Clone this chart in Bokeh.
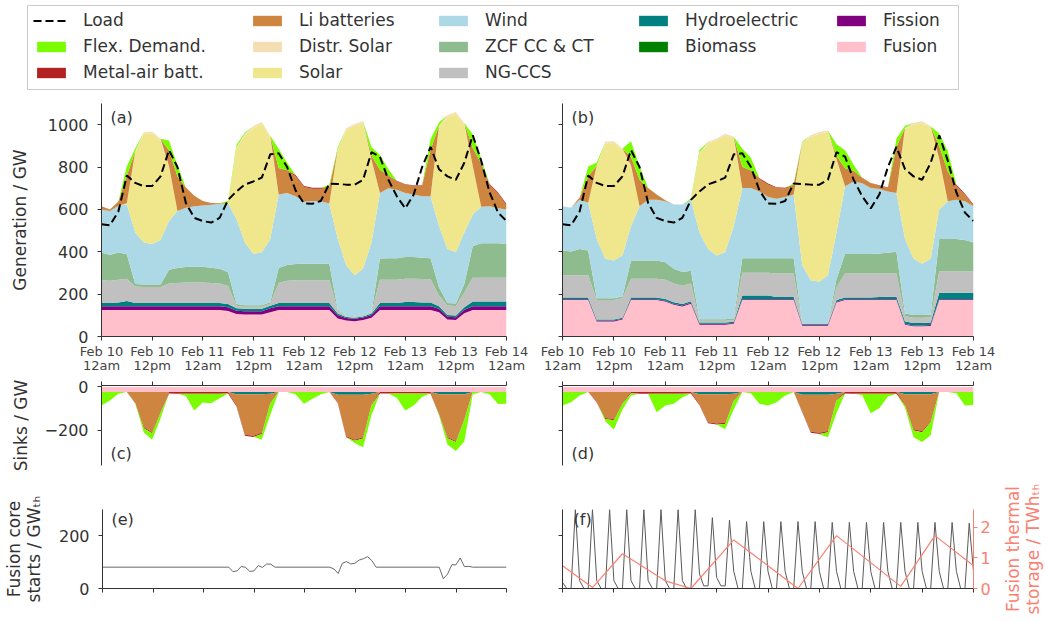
from bokeh.plotting import figure
from bokeh.models import (ColumnDataSource, Range1d, LinearAxis, FixedTicker,
                          Legend, LegendItem, Label)
from bokeh.layouts import column, row
from bokeh.embed import file_html
from bokeh.resources import INLINE

FONT = "DejaVu Sans"
INK = "#333333"

# ---------------- time axis ----------------
hours = list(range(0, 97, 2))          # hours since Feb 10 12am (2-hourly samples)
hours_1h = list(range(0, 97))          # hourly samples
tick_hours = [0, 12, 24, 36, 48, 60, 72, 84, 96]
tick_labels = ["Feb 10\n12am", "Feb 10\n12pm", "Feb 11\n12am", "Feb 11\n12pm",
               "Feb 12\n12am", "Feb 12\n12pm", "Feb 13\n12am", "Feb 13\n12pm",
               "Feb 14\n12am"]

# ---------------- load (GW) ----------------
load = [530, 525, 590, 760, 725, 710, 710, 756, 880, 800, 630, 560, 545, 538, 560, 645,
        685, 718, 732, 750, 860, 865, 800, 690, 628, 627, 640, 722, 720, 717, 717, 740,
        870, 849, 740, 662, 605, 670, 800, 895, 790, 756, 740, 820, 950, 830, 680, 585, 545]

# ---------------- panel (a) generation (GW) ----------------
fusion_a = [125, 125, 125, 125, 125, 125, 125, 125, 125, 125, 125, 125, 125, 125, 125,
            120, 106, 104, 104, 104, 115, 125, 125, 125, 125, 125, 125, 125,
            85, 75, 72, 78, 88, 125, 125, 125, 125, 125, 125, 125,
            115, 80, 78, 110, 125, 125, 125, 125, 125]
fission_a = [18, 18, 18, 18, 18, 18, 18, 18, 18, 18, 18, 18, 18, 18, 18, 18,
             15, 15, 15, 15, 18, 18, 18, 18, 18, 18, 18, 18,
             15, 12, 12, 12, 14, 18, 18, 18, 18, 18, 18, 18,
             16, 13, 13, 16, 18, 18, 18, 18, 18]
biomass_a = [0, 0, 0, 0, 0, 0, 0, 0, 0, 0, 0, 0, 0, 0, 0, 0, 0, 0, 0, 0, 0, 0, 0, 0, 0,
             0, 0, 0, 0, 0, 0, 0, 0, 0, 0, 0, 0, 0, 0, 0, 0, 0, 0, 0, 0, 0, 0, 0, 0]
hydro_a = [15, 15, 17, 25, 15, 15, 15, 15, 15, 15, 15, 15, 15, 15, 15, 15,
           12, 12, 12, 12, 12, 15, 15, 15, 15, 15, 15, 15,
           8, 5, 5, 5, 6, 15, 15, 15, 20, 20, 17, 17,
           12, 8, 8, 12, 22, 22, 22, 22, 22]
ng_a = [108, 105, 108, 105, 78, 76, 76, 76, 92, 95, 97, 97, 97, 95, 92, 85,
        12, 10, 10, 10, 10, 95, 105, 107, 108, 108, 108, 108,
        15, 3, 3, 3, 5, 110, 110, 110, 110, 110, 112, 110,
        50, 45, 45, 70, 112, 112, 112, 112, 112]
zcf_a = [130, 122, 128, 115, 12, 12, 12, 12, 65, 70, 73, 74, 74, 72, 70, 65,
         8, 7, 7, 7, 7, 70, 75, 77, 77, 77, 77, 77,
         5, 2, 2, 2, 3, 100, 102, 102, 102, 102, 100, 100,
         40, 12, 12, 40, 150, 163, 163, 163, 160]
wind_a = [204, 207, 221, 236, 243, 198, 191, 209, 230, 269, 280, 286, 289, 297, 306, 327,
          400, 296, 242, 250, 298, 347, 339, 320, 293, 297, 295, 285,
          332, 239, 195, 220, 328, 309, 330, 323, 302, 295, 290, 292,
          289, 255, 242, 243, 149, 172, 175, 165, 163]
solar_a = [0, 0, 0, 5, 379, 511, 523, 470, 255, 0, 0, 0, 0, 0, 0, 0,
           337, 506, 595, 607, 480, 0, 0, 0, 0, 0, 0, 0,
           420, 639, 706, 688, 386, 0, 0, 0, 0, 0, 0, 0,
           468, 622, 652, 509, 224, 0, 0, 0, 0]
distr_a = [0, 0, 0, 0, 5, 8, 8, 8, 5, 0, 0, 0, 0, 0, 0, 0,
           5, 8, 8, 8, 8, 0, 0, 0, 0, 0, 0, 0,
           5, 8, 8, 8, 5, 0, 0, 0, 0, 0, 0, 0,
           5, 10, 10, 8, 5, 0, 0, 0, 0]
li_a = [15, 8, 20, 130, 0, 0, 0, 0, 73, 165, 95, 50, 22, 8, 3, 2,
        0, 0, 0, 0, 0, 125, 105, 95, 70, 58, 60, 75,
        0, 0, 0, 0, 20, 110, 58, 40, 40, 42, 50, 220,
        0, 0, 0, 0, 85, 198, 100, 70, 20]
ma_a = [0, 0, 0, 0, 0, 0, 0, 0, 0, 0, 0, 0, 0, 0, 0, 0,
        0, 0, 0, 0, 0, 0, 3, 5, 5, 4, 4, 3,
        0, 0, 0, 0, 0, 0, 2, 2, 2, 2, 2, 0,
        0, 0, 0, 0, 0, 5, 5, 5, 5]
flex_a = [0, 0, 0, 45, 12, 0, 0, 0, 47, 50, 0, 0, 0, 0, 0, 8,
          10, 5, 0, 0, 0, 90, 35, 0, 0, 0, 0, 10,
          8, 0, 0, 0, 40, 70, 30, 0, 0, 0, 0, 50,
          15, 0, 0, 0, 65, 25, 0, 0, 0]

# ---------------- panel (b) generation (GW) ----------------
fusion_b = [172, 172, 172, 172, 71, 71, 71, 80, 172, 172, 172, 172, 165, 150, 142, 155,
            56, 56, 56, 56, 60, 172, 172, 172, 172, 172, 172, 172,
            51, 51, 51, 51, 160, 172, 172, 172, 172, 172, 172, 172,
            55, 48, 48, 50, 172, 172, 172, 172, 172]
fission_b = [4, 4, 4, 4, 4, 4, 4, 4, 4, 4, 4, 4, 4, 4, 4, 4, 4, 4, 4, 4, 4, 4, 4, 4, 4,
             4, 4, 4, 4, 4, 4, 4, 4, 4, 4, 4, 4, 4, 4, 4, 4, 4, 4, 4, 4, 4, 4, 4, 4]
biomass_b = [0, 0, 0, 0, 0, 0, 0, 0, 0, 0, 0, 0, 0, 0, 0, 0, 0, 0, 0, 0, 0, 0, 0, 0, 0,
             0, 0, 0, 0, 0, 0, 0, 0, 0, 0, 0, 0, 0, 0, 0, 0, 0, 0, 0, 0, 0, 0, 0, 0]
hydro_b = [8, 8, 8, 8, 5, 5, 5, 5, 8, 8, 8, 8, 8, 8, 8, 8,
           6, 6, 6, 6, 6, 18, 18, 18, 18, 10, 10, 10,
           5, 5, 5, 5, 8, 8, 8, 8, 8, 10, 12, 12,
           12, 12, 12, 12, 30, 30, 30, 30, 30]
ng_b = [105, 105, 105, 105, 92, 92, 92, 92, 89, 89, 89, 89, 91, 88, 86, 83,
        8, 8, 8, 8, 8, 107, 107, 107, 107, 111, 111, 111,
        2, 2, 2, 2, 60, 113, 113, 113, 113, 111, 109, 109,
        25, 25, 25, 25, 102, 102, 102, 102, 102]
zcf_b = [117, 112, 124, 117, 8, 8, 8, 8, 86, 86, 86, 86, 82, 70, 65, 60,
         8, 8, 8, 8, 8, 69, 69, 69, 69, 73, 73, 73,
         1, 1, 1, 1, 40, 93, 93, 93, 93, 95, 98, 103,
         12, 12, 12, 12, 152, 152, 152, 147, 136]
wind_b = [209, 207, 233, 225, 280, 187, 179, 193, 163, 256, 287, 287, 289, 303, 318, 336,
          409, 331, 300, 316, 436, 331, 331, 315, 288, 280, 289, 300,
          273, 203, 195, 226, 219, 319, 342, 334, 311, 304, 290, 277,
          352, 266, 242, 264, 140, 179, 186, 184, 171]
solar_b = [0, 0, 0, 0, 342, 544, 555, 498, 280, 0, 0, 0, 0, 0, 0, 0,
           373, 498, 544, 551, 413, 0, 0, 0, 0, 0, 0, 0,
           575, 676, 699, 676, 342, 0, 0, 0, 0, 0, 0, 0,
           520, 633, 665, 618, 233, 0, 0, 0, 0]
distr_b = [0, 0, 0, 0, 5, 8, 8, 8, 5, 0, 0, 0, 0, 0, 0, 0,
           5, 8, 8, 8, 8, 0, 0, 0, 0, 0, 0, 0,
           5, 8, 8, 8, 5, 0, 0, 0, 0, 0, 0, 0,
           5, 8, 8, 8, 5, 0, 0, 0, 0]
li_b = [0, 0, 10, 124, 0, 0, 0, 0, 40, 125, 55, 24, 4, 0, 0, 0,
        0, 0, 0, 0, 0, 100, 78, 58, 60, 52, 40, 45,
        0, 0, 0, 0, 15, 85, 47, 24, 22, 16, 16, 218,
        0, 0, 0, 0, 60, 140, 65, 30, 5]
ma_b = [0, 0, 0, 0, 0, 0, 0, 0, 0, 0, 0, 0, 0, 0, 0, 0,
        0, 0, 0, 0, 0, 0, 3, 4, 4, 3, 3, 2,
        0, 0, 0, 0, 0, 0, 2, 2, 2, 2, 2, 0,
        0, 0, 0, 0, 0, 0, 5, 5, 3]
flex_b = [0, 0, 0, 47, 15, 0, 0, 0, 75, 62, 0, 0, 0, 0, 0, 5,
          12, 0, 0, 0, 0, 85, 62, 0, 0, 0, 0, 5,
          5, 0, 0, 0, 55, 85, 30, 0, 0, 0, 0, 40,
          10, 0, 0, 0, 60, 95, 0, 0, 0]

# ---------------- panels (c), (d): sinks, magnitudes in GW (drawn negative) ----------------
fusion_sink = [24, 24, 24, 24, 24, 24, 24, 24, 24, 24, 24, 24, 24, 24, 24, 24, 24, 24, 24, 24,
               24, 24, 24, 24, 24, 24, 24, 24, 24, 24, 24, 24, 24, 24, 24, 24, 24, 24, 24, 24,
               24, 24, 24, 24, 24, 24, 24, 24, 24]
hydro_sink_c = [0, 0, 0, 0, 0, 0, 0, 0, 0, 0, 0, 0, 0, 0, 0, 0,
                10, 10, 10, 10, 8, 0, 0, 0, 0, 0, 0, 0,
                12, 12, 12, 12, 8, 0, 0, 0, 0, 0, 0, 0,
                10, 10, 10, 10, 0, 0, 0, 0, 0]
li_sink_c = [0, 0, 0, 0, 47, 162, 185, 90, 0, 0, 0, 0, 0, 0, 0, 0,
             52, 187, 192, 178, 40, 0, 0, 0, 0, 0, 0, 0,
             35, 192, 208, 197, 50, 0, 0, 0, 0, 0, 0, 0,
             88, 198, 216, 114, 0, 0, 0, 0, 0]
ma_sink_c = [0, 0, 0, 0, 3, 5, 5, 4, 6, 8, 8, 8, 8, 8, 8, 6,
             4, 5, 5, 5, 4, 0, 0, 0, 0, 0, 0, 0,
             3, 5, 5, 5, 3, 6, 6, 6, 6, 6, 6, 6,
             4, 5, 5, 4, 0, 0, 0, 0, 0]
flex_sink_c = [62, 39, 8, 0, 3, 18, 30, 27, 0, 0, 10, 77, 40, 43, 20, 0,
               0, 0, 0, 26, 53, 0, 0, 10, 54, 31, 10, 0,
               0, 0, 10, 41, 45, 0, 0, 20, 79, 56, 15, 0,
               5, 29, 41, 100, 10, 0, 10, 55, 54]

hydro_sink_d = [0, 0, 0, 0, 0, 0, 0, 0, 0, 0, 0, 0, 0, 0, 0, 0,
                10, 10, 10, 10, 8, 0, 0, 0, 0, 0, 0, 0,
                12, 12, 12, 12, 8, 0, 0, 0, 0, 0, 0, 0,
                10, 10, 10, 10, 0, 0, 0, 0, 0]
li_sink_d = [0, 0, 0, 0, 45, 120, 125, 50, 0, 0, 0, 0, 0, 0, 0, 0,
             47, 129, 135, 132, 27, 0, 0, 0, 0, 0, 0, 0,
             78, 171, 176, 168, 28, 0, 0, 0, 0, 0, 0, 0,
             48, 162, 170, 124, 0, 0, 0, 0, 0]
ma_sink_d = [0, 0, 0, 0, 3, 4, 5, 4, 5, 8, 8, 8, 8, 8, 8, 6,
             4, 5, 5, 5, 4, 0, 0, 0, 0, 0, 0, 0,
             3, 5, 5, 5, 3, 6, 8, 8, 8, 8, 8, 8,
             4, 5, 5, 4, 0, 0, 0, 0, 0]
flex_sink_d = [62, 47, 16, 0, 0, 11, 43, 27, 11, 0, 0, 85, 54, 46, 16, 0,
               0, 0, 0, 25, 40, 0, 5, 54, 62, 47, 16, 0,
               0, 0, 2, 23, 58, 0, 0, 5, 90, 66, 12, 0,
               10, 31, 46, 61, 0, 0, 5, 62, 60]

# ---------------- panel (e): fusion core starts (GW_th) ----------------
e_hours = [0, 30, 31, 32, 33, 34, 35, 36, 37, 38, 39, 40, 41, 54, 55, 56, 57, 58, 59,
           60, 61, 62, 63, 64, 65, 80, 81, 82, 83, 84, 85, 86, 87, 88, 96]
e_core = [81, 81, 64, 67, 84, 80, 65, 67, 87, 80, 93, 92, 81, 81, 74, 57, 96, 102, 93,
          96, 108, 113, 121, 106, 81, 81, 37, 55, 90, 90, 116, 83, 84, 81, 81]

# ---------------- panel (f): fusion core starts (hourly) + thermal storage ----------------
f_core = [23, 0, 0, 300, 30, 0, 0, 300, 30, 0, 0, 300, 30, 0, 0, 300,
          30, 0, 0, 300, 30, 0, 0, 300, 30, 0, 0, 300, 30, 0, 0, 300,
          55, 10, 10, 269, 42, 10, 10, 260, 65, 0, 0, 254, 65, 0, 0, 254,
          65, 0, 0, 254, 65, 0, 0, 254, 65, 0, 0, 254, 65, 0, 0, 251,
          65, 0, 0, 251, 65, 0, 0, 251, 65, 0, 0, 251, 65, 0, 0, 251,
          65, 0, 0, 251, 65, 0, 0, 251, 65, 0, 0, 251, 65, 0, 0, 248, 65]
storage_hours = [0, 7, 14, 24, 30, 40, 55, 64, 79, 87, 96]
storage_twh = [0.74, 0.03, 1.13, 0.25, 0.0, 1.58, 0.0, 1.72, 0.07, 1.72, 0.74]

# ---------------- styling tables ----------------
gen_keys = ["fusion", "fission", "biomass", "hydro", "ng", "zcf", "wind",
            "solar", "distr", "li", "ma", "flex"]
gen_colors = ["pink", "purple", "green", "teal", "silver", "darkseagreen",
              "lightblue", "khaki", "wheat", "peru", "firebrick", "lawngreen"]
sink_keys = ["fusion", "hydro", "li", "ma", "flex"]
sink_colors = ["pink", "teal", "peru", "firebrick", "lawngreen"]


def base_fig(width, height, y_range, ml, mr, mt, mb, x_loc="below"):
    p = figure(width=width, height=height, x_range=Range1d(0, 96), y_range=y_range,
               x_axis_location=x_loc, output_backend="svg", toolbar_location=None,
               min_border_left=ml, min_border_right=mr, min_border_top=mt,
               min_border_bottom=mb)
    p.xgrid.visible = False
    p.ygrid.visible = False
    p.outline_line_color = None
    return p


def style_axis(ax, ticks, show_labels=True, color=INK, size="16px", standoff=9):
    ax.ticker = FixedTicker(ticks=ticks)
    ax.axis_line_color = color
    ax.major_tick_line_color = color
    ax.major_tick_out = 4
    ax.major_tick_in = 0
    ax.minor_tick_line_color = None
    ax.major_label_text_font = FONT
    ax.axis_label_text_font = FONT
    ax.axis_label_text_font_style = "normal"
    ax.axis_label_text_color = color
    ax.axis_label_text_font_size = "17px"
    ax.axis_label_text_line_height = 1.0
    if show_labels:
        ax.major_label_text_color = color
        ax.major_label_text_font_size = size
        ax.major_label_standoff = standoff
    else:
        ax.major_label_text_color = None
        ax.major_label_text_font_size = "1px"
        ax.major_label_standoff = 0


def panel_label(p, text, x, y, baseline):
    p.add_layout(Label(x=x, y=y, x_units="screen", y_units="screen", text=text,
                       text_font=FONT, text_font_size="16px", text_color=INK,
                       text_baseline=baseline))


def gen_panel(width, ml, mr, data, show_y, label, lx):
    src = ColumnDataSource(dict(x=hours, load=load, **data))
    p = base_fig(width, 280, Range1d(0, 1100), ml, mr, 8, 36)
    p.varea_stack(stackers=gen_keys, x="x", color=gen_colors, source=src)
    p.line("x", "load", source=src, line_color="black", line_width=2, line_dash="8 4")
    style_axis(p.xaxis[0], tick_hours, True, color=INK, size="13px", standoff=3)
    p.xaxis[0].major_label_text_color = "#444444"
    p.xaxis[0].major_label_text_line_height = 0.95
    p.xaxis[0].major_label_overrides = dict(zip(tick_hours, tick_labels))
    style_axis(p.yaxis[0], [0, 200, 400, 600, 800, 1000], show_y)
    if show_y:
        p.yaxis[0].axis_label = "Generation / GW"
        p.yaxis[0].axis_label_standoff = 15
    panel_label(p, label, lx, 229, "top")
    return p


def sink_panel(width, ml, mr, data, show_y, label, lx):
    src = ColumnDataSource(dict(x=hours, **{k: [-v for v in vals] for k, vals in data.items()}))
    p = base_fig(width, 98, Range1d(-363, 6.5), ml, mr, 10, 8, x_loc="above")
    p.varea_stack(stackers=sink_keys, x="x", color=sink_colors, source=src)
    style_axis(p.xaxis[0], tick_hours, False)
    style_axis(p.yaxis[0], [-200, 0], show_y)
    if show_y:
        p.yaxis[0].major_label_overrides = {-200: "\u2212200", 0: "0"}
        p.yaxis[0].axis_label = "Sinks / GW"
        p.yaxis[0].axis_label_standoff = 11
    panel_label(p, label, lx, 3, "bottom")
    return p


# ---------------- legend ----------------
leg = figure(width=959, height=95, x_range=Range1d(0, 1), y_range=Range1d(0, 1),
             x_axis_type=None, y_axis_type=None, output_backend="svg",
             toolbar_location=None, min_border_left=27, min_border_right=1,
             min_border_top=5, min_border_bottom=6)
leg.outline_line_color = "#cccccc"
leg.outline_line_width = 1
leg.xgrid.visible = False
leg.ygrid.visible = False

# invisible proxy glyphs (zero length / zero height) that carry the legend styling
r_load = leg.line(x=[0], y=[0], line_color="black", line_width=2, line_dash="8 4")
legend_glyphs = {"Load": r_load}
for name, col in zip(["Fusion", "Fission", "Biomass", "Hydroelectric", "NG-CCS",
                      "ZCF CC & CT", "Wind", "Solar", "Distr. Solar", "Li batteries",
                      "Metal-air batt.", "Flex. Demand."], gen_colors):
    legend_glyphs[name] = leg.varea(x=[0], y1=[0], y2=[0], fill_color=col)

legend_columns = [["Load", "Flex. Demand.", "Metal-air batt."],
                  ["Li batteries", "Distr. Solar", "Solar"],
                  ["Wind", "ZCF CC & CT", "NG-CCS"],
                  ["Hydroelectric", "Biomass"],
                  ["Fission", "Fusion"]]
legend_x = [6, 222, 408, 608, 806]
for names, lx in zip(legend_columns, legend_x):
    vy = 7 if len(names) == 3 else 33
    lg = Legend(items=[LegendItem(label=n, renderers=[legend_glyphs[n]]) for n in names],
                location=(lx, vy), orientation="vertical",
                label_text_font=FONT, label_text_font_size="17px",
                label_text_color=INK, label_text_baseline="middle",
                glyph_width=36, glyph_height=13, label_standoff=14, label_height=20,
                spacing=6, padding=0, margin=0, border_line_color=None,
                background_fill_alpha=0)
    leg.add_layout(lg)

# ---------------- panels ----------------
data_a = dict(fusion=fusion_a, fission=fission_a, biomass=biomass_a, hydro=hydro_a,
              ng=ng_a, zcf=zcf_a, wind=wind_a, solar=solar_a, distr=distr_a,
              li=li_a, ma=ma_a, flex=flex_a)
data_b = dict(fusion=fusion_b, fission=fission_b, biomass=biomass_b, hydro=hydro_b,
              ng=ng_b, zcf=zcf_b, wind=wind_b, solar=solar_b, distr=distr_b,
              li=li_b, ma=ma_b, flex=flex_b)
pa = gen_panel(535, 101, 29, data_a, True, "(a)", 9)
pb = gen_panel(508, 27, 70, data_b, False, "(b)", 9)

data_c = dict(fusion=fusion_sink, hydro=hydro_sink_c, li=li_sink_c, ma=ma_sink_c, flex=flex_sink_c)
data_d = dict(fusion=fusion_sink, hydro=hydro_sink_d, li=li_sink_d, ma=ma_sink_d, flex=flex_sink_d)
pc = sink_panel(535, 101, 29, data_c, True, "(c)", 9)
pd_ = sink_panel(508, 27, 70, data_d, False, "(d)", 9)

# (e)
pe = base_fig(535, 147, Range1d(0, 300), 101, 29, 36, 32)
pe.line(e_hours, e_core, line_color="#6a6a6a", line_width=1)
style_axis(pe.xaxis[0], tick_hours, False)
style_axis(pe.yaxis[0], [0, 200], True)
pe.yaxis[0].axis_label = "Fusion core\nstarts / GW\u209c\u2095"
pe.yaxis[0].axis_label_standoff = 12
panel_label(pe, "(e)", 9, 79, "top")

# (f)
pf = base_fig(464, 147, Range1d(0, 300), 27, 26, 36, 32)
pf.extra_y_ranges = {"stor": Range1d(0, 2.57)}
pf.line(hours_1h, f_core, line_color="#5a5a5a", line_width=1)
pf.line(storage_hours, storage_twh, y_range_name="stor", line_color="salmon", line_width=1.2)
style_axis(pf.xaxis[0], tick_hours, False)
style_axis(pf.yaxis[0], [0, 200], False)
ax_r = LinearAxis(y_range_name="stor")
style_axis(ax_r, [0, 1, 2], True, color="salmon", size="16px", standoff=3)
pf.add_layout(ax_r, "right")
panel_label(pf, "(f)", 11, 79, "top")

# title strip for the right-hand (storage) axis of (f), reading bottom-to-top
pf_lab = figure(width=45, height=147, x_range=Range1d(0, 1), y_range=Range1d(0, 2.57),
                x_axis_type=None, output_backend="svg", toolbar_location=None,
                min_border_left=43, min_border_right=0, min_border_top=36,
                min_border_bottom=32)
pf_lab.outline_line_color = None
pf_lab.ygrid.visible = False
lab_ax = pf_lab.yaxis[0]
style_axis(lab_ax, [0, 1, 2], False, color="salmon")
lab_ax.axis_line_color = None
lab_ax.major_tick_line_color = None
lab_ax.major_tick_out = 0
lab_ax.axis_label = "Fusion thermal\nstorage / TWh\u209c\u2095"
lab_ax.axis_label_standoff = 0

layout = column(leg, row(pa, pb), row(pc, pd_), row(pe, pf, pf_lab))

with open("out.html", "w") as fh:
    fh.write(file_html(layout, INLINE))
